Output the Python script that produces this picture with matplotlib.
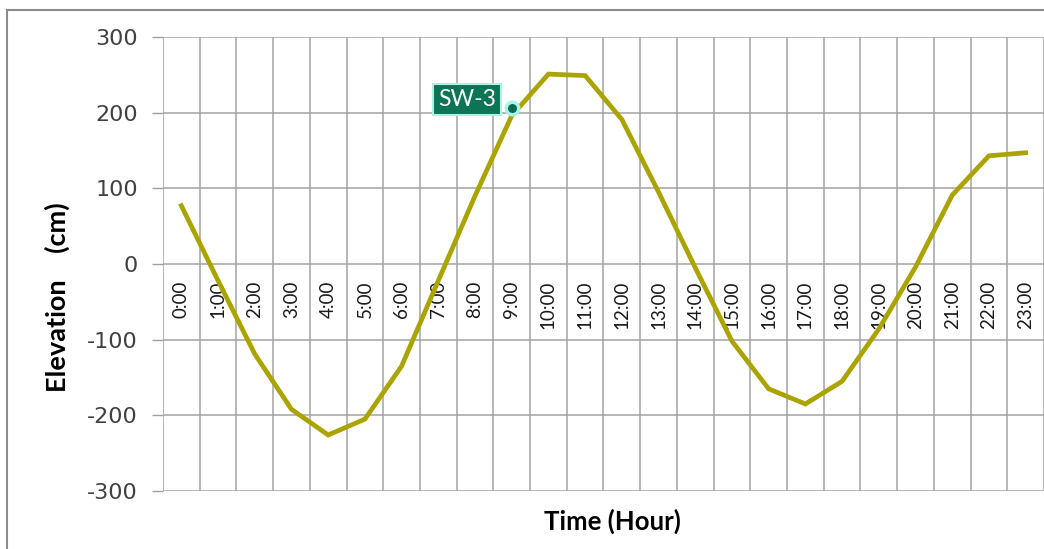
import numpy as np
import matplotlib
matplotlib.use("Agg")
import matplotlib.pyplot as plt
from matplotlib.patches import Rectangle

# ---- data ----
hours = ["0:00", "1:00", "2:00", "3:00", "4:00", "5:00", "6:00", "7:00",
         "8:00", "9:00", "10:00", "11:00", "12:00", "13:00", "14:00", "15:00",
         "16:00", "17:00", "18:00", "19:00", "20:00", "21:00", "22:00", "23:00"]
elevation = [77, -22, -119, -192, -226, -205, -135, -22,
             90, 196, 251, 249, 191, 95, -5, -102,
             -165, -185, -155, -86, -4, 91, 143, 147]
y_ticks = [-300, -200, -100, 0, 100, 200, 300]
station_name = "SW-3"
station_hour = "9:00"
station_value = 206

plt.rcParams['font.family'] = ['Lato', 'DejaVu Sans']

fig = plt.figure(figsize=(10.44, 5.49), dpi=100)
ax = fig.add_axes([163/1044, 1 - 491/549, 1 - 163/1044, (491 - 37)/549])

x = np.arange(len(hours))
ax.plot(x, elevation, color='#aaa300', lw=3.4, solid_joinstyle='miter', zorder=3)

# station marker + label
sx = hours.index(station_hour)
ax.plot([sx], [station_value], 'o', ms=9, mfc='#0b6b52', mec='#a6f5e6', mew=2.5, zorder=5)
ax.annotate(station_name, xy=(sx, station_value), xytext=(-32, 6.5), textcoords='offset points',
            ha='center', va='center', fontsize=16.5, color='white',
            bbox=dict(boxstyle='square,pad=0.22', fc='#0b7556', ec='#a6f5e6', lw=1.5), zorder=6)

ax.set_xlim(-0.5, len(hours) - 0.5)
ax.set_ylim(y_ticks[0], y_ticks[-1])

# y axis
ax.set_yticks(y_ticks)
ax.set_yticklabels([str(v) for v in y_ticks], fontsize=16, color='#404040', family=['DejaVu Sans'])
ax.tick_params(axis='y', length=8, width=1, color='#a0a0a0', pad=10)

# x axis: labels at y = 0, gridlines between categories
ax.spines['bottom'].set_position(('data', 0))
ax.set_xticks(x)
ax.set_xticklabels(hours, rotation=90, fontsize=13.5, color='#1a1a1a', va='top', ha='center')
ax.tick_params(axis='x', which='major', length=0, pad=12)
ax.set_xticks(np.arange(-0.5, len(hours), 1), minor=True)
ax.tick_params(axis='x', which='minor', length=0)

for s in ax.spines.values():
    s.set_visible(False)

ax.grid(axis='x', which='minor', color='#a3a3a3', lw=1.1)
ax.grid(axis='y', which='major', color='#a3a3a3', lw=1.1)
ax.set_axisbelow(True)

ax.set_xlabel("Time (Hour)", fontsize=18.5, fontweight='bold', color='black')
ax.xaxis.set_label_coords((612 - 163) / 881, (491 - 521) / 454)
ax.xaxis.label.set_va('center')
ax.set_ylabel("Elevation    (cm)", fontsize=19.5, fontweight='bold', color='black')
ax.yaxis.set_label_coords((57 - 163) / 881, (491 - 297) / 454)
ax.yaxis.label.set_va('center')

# outer chart border
fig.patches.append(Rectangle((7/1044, -0.1), 1.2, (549 - 10)/549 + 0.1, transform=fig.transFigure,
                             fill=False, ec='#8c8c8c', lw=1.5))

fig.savefig("out.png", dpi=100)
